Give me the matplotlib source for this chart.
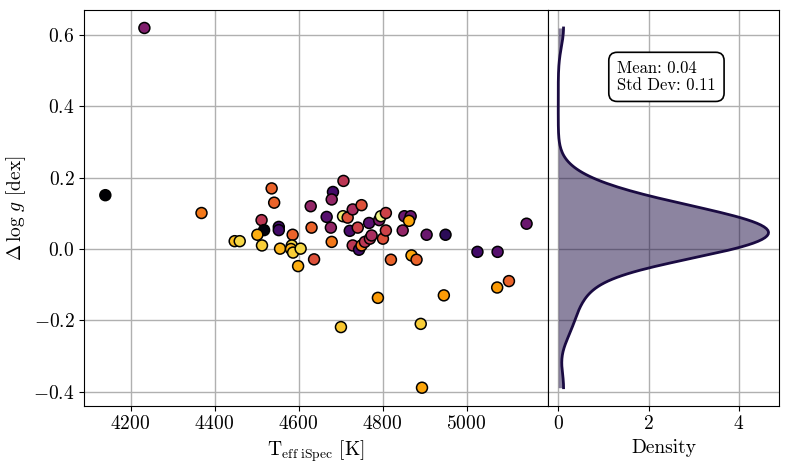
import numpy as np
import matplotlib
matplotlib.use("Agg")
import matplotlib.pyplot as plt

plt.rcParams['font.family'] = 'serif'
plt.rcParams['font.serif'] = ['cmr10']
plt.rcParams['mathtext.fontset'] = 'cm'
plt.rcParams['axes.formatter.use_mathtext'] = True
plt.rcParams['axes.unicode_minus'] = True

# Teff (iSpec) [K]
teff = [4140, 4233, 4369, 4536, 4542, 4629, 4512, 4518, 4553, 4553,
        4502, 4586, 4631, 4448, 4460, 4513, 4556, 4584, 4582, 4587,
        4605, 4599, 4637, 4707, 4682, 4679, 4667, 4706, 4717, 4729,
        4750, 4677, 4722, 4741, 4768, 4792, 4796, 4808, 4679, 4729,
        4744, 4750, 4758, 4770, 4774, 4801, 4808, 4848, 4852, 4867,
        4863, 4820, 4869, 4881, 4905, 4950, 5026, 5074, 5143, 5073,
        5101, 4946, 4789, 4891, 4894, 4701]
# Delta log g [dex]
dlogg = [0.151, 0.620, 0.101, 0.170, 0.130, 0.120, 0.081, 0.053, 0.062, 0.053,
         0.040, 0.040, 0.060, 0.022, 0.022, 0.010, 0.001, 0.010, 0.000, -0.010,
         0.001, -0.048, -0.029, 0.191, 0.160, 0.139, 0.090, 0.092, 0.088, 0.111,
         0.123, 0.060, 0.051, 0.060, 0.073, 0.081, 0.092, 0.101, 0.020, 0.010,
         -0.002, 0.010, 0.020, 0.029, 0.038, 0.029, 0.052, 0.052, 0.092, 0.092,
         0.079, -0.030, -0.018, -0.030, 0.040, 0.040, -0.008, -0.008, 0.071, -0.108,
         -0.090, -0.130, -0.137, -0.210, -0.389, -0.219]
# colour variable (normalised)
cval = [0.00, 0.35, 0.70, 0.65, 0.65, 0.40, 0.50, 0.02, 0.20, 0.20,
        0.82, 0.65, 0.65, 0.85, 0.90, 0.88, 0.83, 0.90, 0.83, 0.88,
        0.90, 0.82, 0.60, 0.50, 0.20, 0.40, 0.25, 0.95, 0.60, 0.45,
        0.60, 0.40, 0.22, 0.55, 0.25, 0.35, 0.97, 0.55, 0.70, 0.50,
        0.20, 0.70, 0.50, 0.50, 0.45, 0.60, 0.55, 0.40, 0.30, 0.30,
        0.80, 0.65, 0.80, 0.65, 0.30, 0.15, 0.20, 0.25, 0.30, 0.78,
        0.65, 0.78, 0.78, 0.88, 0.80, 0.87]

fig = plt.figure(figsize=(7.89, 4.69), dpi=100)
ax = fig.add_axes([0.1068, 0.135, 0.5873, 0.8437])
ax2 = fig.add_axes([0.6942, 0.135, 0.2932, 0.8437], sharey=ax)

ax.grid(True, color='#b0b0b0', lw=1.0, zorder=0)
ax.set_axisbelow(True)
ax.scatter(teff, dlogg, c=cval, cmap='inferno', vmin=0, vmax=1, s=62,
           edgecolors='black', linewidths=1.1, zorder=3)
ax.set_xlabel(r'T$_{\mathrm{eff\ iSpec}}$ [K]', fontsize=14)
ax.set_ylabel(r'$\Delta\,\log\,g$ [dex]', fontsize=14)
ax.tick_params(labelsize=14)

# KDE (Gaussian, Scott's rule), cut at data range
y = np.asarray(dlogg)
n = len(y)
bw = y.std(ddof=1) * n ** (-1 / 5)
grid = np.linspace(y.min(), y.max(), 200)
dens = np.exp(-0.5 * ((grid[:, None] - y[None, :]) / bw) ** 2).sum(1) / (n * bw * np.sqrt(2 * np.pi))

lc = '#1a0b42'
ax2.grid(True, color='#b0b0b0', lw=1.0, zorder=0)
ax2.set_axisbelow(True)
ax2.fill_betweenx(grid, 0, dens, color=lc, alpha=0.5, lw=0, zorder=2)
ax2.plot(dens, grid, color=lc, lw=2, zorder=3)
ax2.set_xlabel('Density', fontsize=14)
ax2.tick_params(axis='y', left=False, labelleft=False)
ax2.tick_params(labelsize=14)
ax2.set_xticks([0, 2, 4])

ax2.text(0.30, 0.872, 'Mean: %.2f\nStd Dev: %.2f' % (0.04, 0.11), transform=ax2.transAxes,
         ha='left', va='top', fontsize=12, linespacing=1.15,
         bbox=dict(boxstyle='round,pad=0.5', fc='white', ec='black', lw=1.2))

fig.savefig('out.png', dpi=100)
